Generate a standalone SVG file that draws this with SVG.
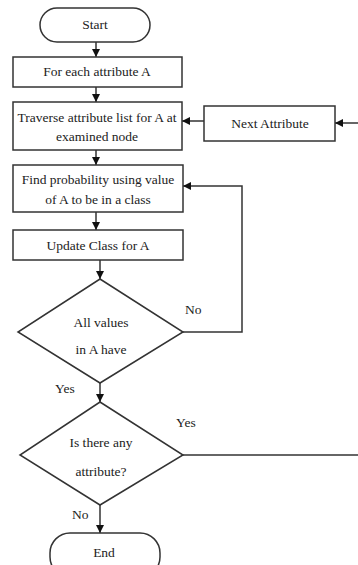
<svg xmlns="http://www.w3.org/2000/svg" width="358" height="565" viewBox="0 0 358 565">
<defs>
<marker id="ah" viewBox="0 0 10 10" refX="10" refY="5" markerWidth="8" markerHeight="8" markerUnits="userSpaceOnUse" orient="auto">
<path d="M0,0 L10,5 L0,10 z" fill="#111"/>
</marker>
<style>
.n{fill:#fff;stroke:#333;stroke-width:1.5}
.c{fill:none;stroke:#333;stroke-width:1.5}
.a{marker-end:url(#ah)}
text{font-family:"Liberation Serif","Times New Roman",serif;font-size:13.5px;fill:#222;text-anchor:middle}
.l{text-anchor:start}
</style>
</defs>
<rect width="358" height="565" fill="#fff"/>
<g id="connectors">
<line class="c a" x1="96" y1="42" x2="96" y2="57"/>
<line class="c a" x1="96" y1="87" x2="96" y2="102"/>
<line class="c a" x1="96" y1="150" x2="96" y2="165"/>
<line class="c a" x1="96" y1="212" x2="96" y2="230"/>
<line class="c a" x1="100" y1="260" x2="100" y2="279"/>
<line class="c a" x1="100" y1="383" x2="100" y2="402"/>
<line class="c a" x1="100" y1="505" x2="100" y2="533"/>
<polyline class="c a" points="183,332 242,332 242,186 183,186"/>
<line class="c a" x1="204" y1="121" x2="182" y2="121"/>
<line class="c a" x1="358" y1="123" x2="335" y2="123"/>
<line class="c" x1="183" y1="455" x2="358" y2="455"/>
<text class="l" x="185" y="314">No</text>
<text class="l" x="55" y="393">Yes</text>
<text class="l" x="176" y="427">Yes</text>
<text class="l" x="72" y="519">No</text>
</g>
<g id="start">
<rect class="n" x="40" y="8" width="110" height="34" rx="17"/>
<text x="95" y="29">Start</text>
</g>
<g id="foreach">
<rect class="n" x="13" y="57" width="169" height="30"/>
<text x="97" y="76">For each attribute A</text>
</g>
<g id="traverse">
<rect class="n" x="13" y="102" width="169" height="48"/>
<text x="97" y="122">Traverse attribute list for A at</text>
<text x="97" y="141">examined node</text>
</g>
<g id="next">
<rect class="n" x="204" y="106" width="131" height="35"/>
<text x="270" y="128">Next Attribute</text>
</g>
<g id="find">
<rect class="n" x="13" y="165" width="170" height="47"/>
<text x="98" y="184">Find probability using value</text>
<text x="98" y="204">of A to be in a class</text>
</g>
<g id="update">
<rect class="n" x="13" y="230" width="170" height="30"/>
<text x="98" y="250">Update Class for A</text>
</g>
<g id="allvalues">
<polygon class="n" points="100,279 183,332 100,383 18,332"/>
<text x="101" y="327">All values</text>
<text x="101" y="354">in A have</text>
</g>
<g id="anyattr">
<polygon class="n" points="100,402 183,455 100,505 20,455"/>
<text x="101" y="447">Is there any</text>
<text x="101" y="476">attribute?</text>
</g>
<g id="end">
<rect class="n" x="50" y="533" width="110" height="44" rx="20"/>
<text x="104" y="557">End</text>
</g>
</svg>
